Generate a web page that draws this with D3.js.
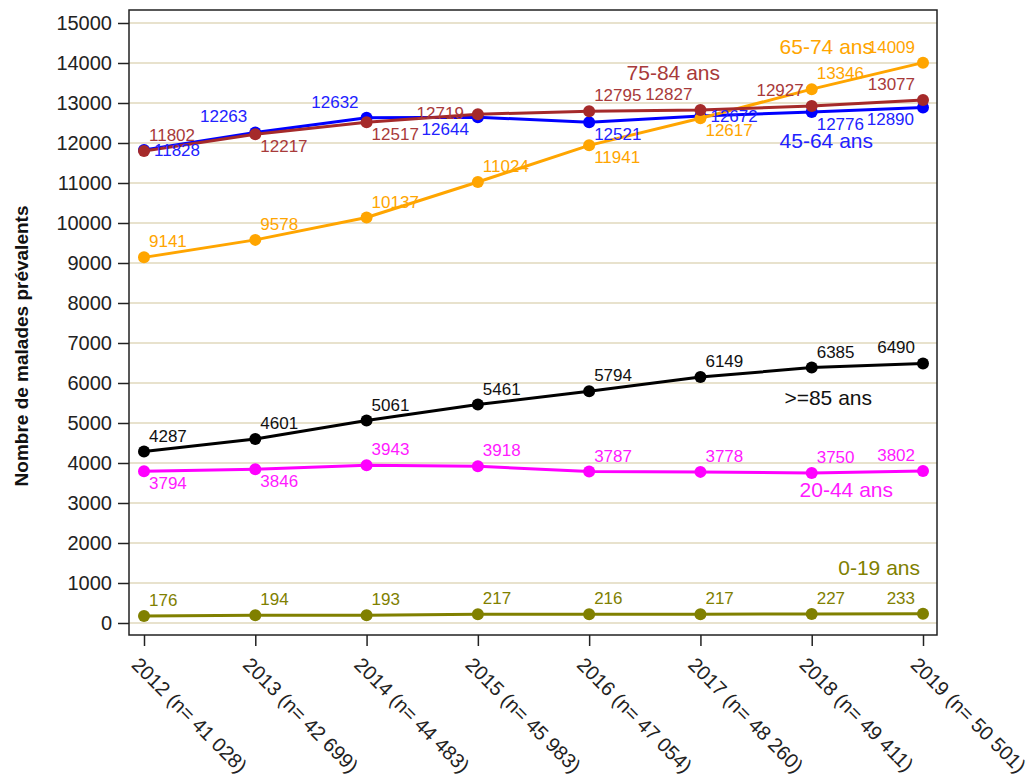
<!DOCTYPE html>
<html>
<head>
<meta charset="utf-8">
<script src="https://cdn.jsdelivr.net/npm/d3@7"></script>
<style>
  html, body { margin: 0; padding: 0; background: #fff; }
  svg { display: block; font-family: Arial, "Liberation Sans", sans-serif; }
</style>
</head>
<body>
<svg id="chart" width="1033" height="779"></svg>
<script>
// ---- Data ----
const years = ["2012", "2013", "2014", "2015", "2016", "2017", "2018", "2019"];
const xTickLabels = ["2012 (n= 41 028)", "2013 (n= 42 699)", "2014 (n= 44 483)", "2015 (n= 45 983)",
                     "2016 (n= 47 054)", "2017 (n= 48 260)", "2018 (n= 49 411)", "2019 (n= 50 501)"];
const yTicks = [0, 1000, 2000, 3000, 4000, 5000, 6000, 7000, 8000, 9000, 10000, 11000, 12000, 13000, 14000, 15000];

const seriesNames = ["0-19 ans", "20-44 ans", "45-64 ans", "65-74 ans", "75-84 ans", ">=85 ans"];
const values0_19  = [176, 194, 193, 217, 216, 217, 227, 233];
const values20_44 = [3794, 3846, 3943, 3918, 3787, 3778, 3750, 3802];
const values45_64 = [11828, 12263, 12632, 12644, 12521, 12672, 12776, 12890];
const values65_74 = [9141, 9578, 10137, 11024, 11941, 12617, 13346, 14009];
const values75_84 = [11802, 12217, 12517, 12719, 12795, 12827, 12927, 13077];
const values85    = [4287, 4601, 5061, 5461, 5794, 6149, 6385, 6490];

// ---- Styling (label placement codes, colours, series label positions) ----
const colors = ["#808000", "#ff00ff", "#0000ff", "#ffa500", "#a52a2a", "#000000"];
const textColors = ["#808000", "#ff1aff", "#2222ff", "#ffa500", "#a83a3a", "#111111"];
const place0_19  = ["ar", "ar", "ar", "ar", "ar", "ar", "ar", "al"];
const place20_44 = ["br", "br", "ar", "ar", "ar", "ar", "ar", "al"];
const place45_64 = ["r", "al", "al", "bl", "br", "r", "br", "bl"];
const place65_74 = ["ar", "ar", "ar", "ar", "br", "br", "ar", "al"];
const place75_84 = ["ar", "br", "br", "l", "ar", "al", "al", "al"];
const place85    = ["ar", "ar", "ar", "ar", "ar", "ar", "ar", "al"];
// series name label: [x right edge, baseline y]
const nameLabelPos = [[920, 575], [893, 497], [873, 148], [873, 54], [720, 80], [872, 405]];

const allValues = [values0_19, values20_44, values45_64, values65_74, values75_84, values85];
const allPlaces = [place0_19, place20_44, place45_64, place65_74, place75_84, place85];

// ---- Layout ----
const frame = { left: 129, right: 937, top: 10, bottom: 635 };
const svg = d3.select("#chart");

const x = d3.scalePoint().domain(years).range([144, 923]);
const y = d3.scaleLinear().domain([0, 15000]).range([623, 23]);

// gridlines
svg.append("g").selectAll("line").data(yTicks).join("line")
  .attr("x1", frame.left).attr("x2", frame.right)
  .attr("y1", d => y(d)).attr("y2", d => y(d))
  .attr("stroke", "#e0d8bc").attr("stroke-width", 1.5);

// y axis
const yAxis = d3.axisLeft(y).tickValues(yTicks).tickSize(11).tickPadding(6).tickFormat(d3.format("d"));
const gy = svg.append("g").attr("transform", `translate(${frame.left},0)`).call(yAxis);
gy.select(".domain").remove();
gy.selectAll(".tick line").attr("stroke", "#222").attr("stroke-width", 1.5);
gy.selectAll(".tick text").attr("font-size", 20).attr("fill", "#222")
  .attr("font-family", "Arial, 'Liberation Sans', sans-serif");

// x axis
const xAxis = d3.axisBottom(x).tickSize(11).tickFormat((d, i) => xTickLabels[i]);
const gx = svg.append("g").attr("transform", `translate(0,${frame.bottom})`).call(xAxis);
gx.select(".domain").remove();
gx.selectAll(".tick line").attr("stroke", "#222").attr("stroke-width", 1.5);
gx.selectAll(".tick text")
  .attr("font-size", 20).attr("fill", "#222")
  .attr("font-family", "Arial, 'Liberation Sans', sans-serif")
  .attr("text-anchor", "start")
  .attr("dy", null).attr("y", null)
  .attr("transform", "translate(-14,31) rotate(45)");

// frame
svg.append("rect")
  .attr("x", frame.left).attr("y", frame.top)
  .attr("width", frame.right - frame.left).attr("height", frame.bottom - frame.top)
  .attr("fill", "none").attr("stroke", "#222").attr("stroke-width", 1.5);

// y title
svg.append("text")
  .attr("transform", "translate(28,346) rotate(-90)")
  .attr("text-anchor", "middle")
  .attr("font-size", 19).attr("font-weight", "bold").attr("fill", "#111")
  .text("Nombre de malades prévalents");

// series
const line = d3.line().x((d, i) => x(years[i])).y(d => y(d));
const offsets = {
  ar: { dx: 5, dy: -10, anchor: "start" },
  al: { dx: -8, dy: -10, anchor: "end" },
  br: { dx: 5, dy: 18, anchor: "start" },
  bl: { dx: -9, dy: 18, anchor: "end" },
  r:  { dx: 10, dy: 6, anchor: "start" },
  l:  { dx: -14, dy: 5, anchor: "end" }
};

allValues.forEach((vals, s) => {
  const g = svg.append("g");
  g.append("path").datum(vals)
    .attr("d", line).attr("fill", "none")
    .attr("stroke", colors[s]).attr("stroke-width", 3).attr("stroke-linejoin", "round");
  g.selectAll("circle").data(vals).join("circle")
    .attr("cx", (d, i) => x(years[i])).attr("cy", d => y(d)).attr("r", 6)
    .attr("fill", colors[s]);
});

allValues.forEach((vals, s) => {
  const g = svg.append("g");
  g.selectAll("text").data(vals).join("text")
    .attr("x", (d, i) => x(years[i]) + offsets[allPlaces[s][i]].dx)
    .attr("y", d => y(d))
    .attr("dy", (d, i) => offsets[allPlaces[s][i]].dy)
    .attr("text-anchor", (d, i) => offsets[allPlaces[s][i]].anchor)
    .attr("font-size", 17).attr("fill", textColors[s])
    .text(d => d);
  svg.append("text")
    .attr("x", nameLabelPos[s][0]).attr("y", nameLabelPos[s][1])
    .attr("text-anchor", "end")
    .attr("font-size", 21).attr("fill", textColors[s])
    .text(seriesNames[s]);
});
</script>
</body>
</html>
